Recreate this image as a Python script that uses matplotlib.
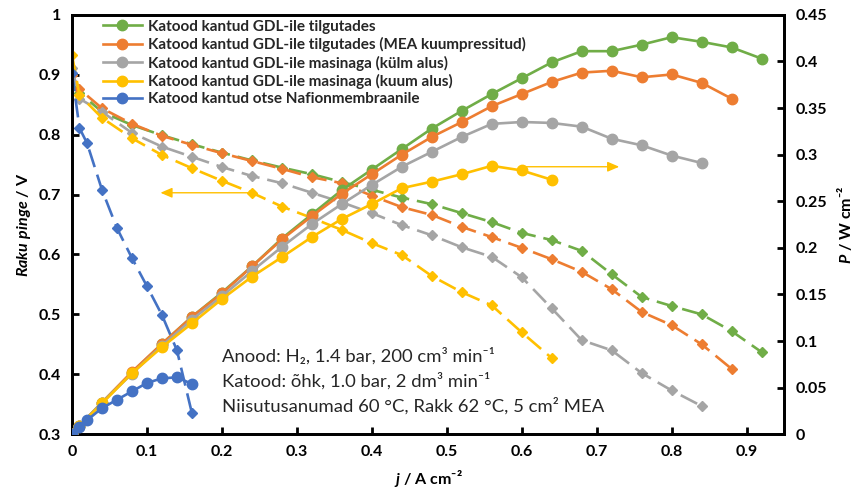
import matplotlib
matplotlib.use("Agg")
import matplotlib.pyplot as plt

FAM = ['Lato', 'DejaVu Sans']
plt.rcParams['font.family'] = FAM
plt.rcParams['mathtext.fontset'] = 'custom'
plt.rcParams['mathtext.it'] = 'Lato:italic:bold'
plt.rcParams['mathtext.rm'] = 'Lato:bold'
plt.rcParams['mathtext.bf'] = 'Lato:bold'

# ---------------- data ----------------
labels = [
    "Katood kantud GDL-ile tilgutades",
    "Katood kantud GDL-ile tilgutades (MEA kuumpressitud)",
    "Katood kantud GDL-ile masinaga (külm alus)",
    "Katood kantud GDL-ile masinaga (kuum alus)",
    "Katood kantud otse Nafionmembraanile",
]
colors = ['#70AD47', '#ED7D31', '#A5A5A5', '#FFC000', '#4472C4']

j_green = [0, 0.01, 0.04, 0.08, 0.12, 0.16, 0.20, 0.24, 0.28, 0.32, 0.36, 0.40, 0.44,
           0.48, 0.52, 0.56, 0.60, 0.64, 0.68, 0.72, 0.76, 0.80, 0.84, 0.88, 0.92]
V_green = [0.886, 0.870, 0.838, 0.816, 0.799, 0.784, 0.770, 0.757, 0.745, 0.734, 0.721,
           0.708, 0.695, 0.684, 0.669, 0.654, 0.636, 0.624, 0.606, 0.567, 0.529, 0.514,
           0.500, 0.472, 0.437]
P_green = [0, 0.009, 0.034, 0.066, 0.097, 0.126, 0.152, 0.180, 0.210, 0.236, 0.262,
           0.284, 0.306, 0.328, 0.347, 0.365, 0.382, 0.399, 0.411, 0.411, 0.418, 0.426,
           0.421, 0.415, 0.403]

j_orange = j_green[:24]
V_orange = [0.900, 0.876, 0.844, 0.818, 0.798, 0.783, 0.769, 0.756, 0.743, 0.729, 0.719,
            0.698, 0.679, 0.666, 0.646, 0.629, 0.611, 0.592, 0.571, 0.542, 0.504, 0.482,
            0.450, 0.409]
P_orange = [0, 0.009, 0.034, 0.067, 0.097, 0.126, 0.151, 0.180, 0.209, 0.234, 0.258,
            0.279, 0.300, 0.319, 0.335, 0.352, 0.365, 0.378, 0.388, 0.390, 0.383, 0.386,
            0.377, 0.360]

j_gray = j_green[:23]
V_gray = [0.911, 0.860, 0.838, 0.803, 0.780, 0.763, 0.746, 0.731, 0.719, 0.703, 0.687,
          0.669, 0.649, 0.632, 0.612, 0.596, 0.562, 0.510, 0.457, 0.440, 0.402, 0.373,
          0.347]
P_gray = [0, 0.009, 0.034, 0.065, 0.095, 0.123, 0.148, 0.175, 0.201, 0.2255, 0.247,
          0.2675, 0.287, 0.303, 0.319, 0.333, 0.335, 0.334, 0.330, 0.317, 0.310, 0.299,
          0.291]

j_yellow = j_green[:18]
V_yellow = [0.933, 0.866, 0.828, 0.794, 0.766, 0.744, 0.723, 0.703, 0.680, 0.661, 0.641,
            0.619, 0.599, 0.564, 0.537, 0.515, 0.470, 0.427]
P_yellow = [0, 0.009, 0.033, 0.0655, 0.0934, 0.119, 0.145, 0.169, 0.190, 0.2116, 0.231,
            0.247, 0.264, 0.271, 0.279, 0.288, 0.283, 0.273]

j_blue = [0, 0.01, 0.02, 0.04, 0.06, 0.08, 0.10, 0.12, 0.14, 0.16]
V_blue = [0.903, 0.811, 0.786, 0.708, 0.644, 0.594, 0.547, 0.499, 0.440, 0.335]
P_blue = [0, 0.0075, 0.015, 0.028, 0.037, 0.046, 0.055, 0.060, 0.061, 0.054]

series = [
    (j_green, V_green, P_green),
    (j_orange, V_orange, P_orange),
    (j_gray, V_gray, P_gray),
    (j_yellow, V_yellow, P_yellow),
    (j_blue, V_blue, P_blue),
]

xticks = [0, 0.1, 0.2, 0.3, 0.4, 0.5, 0.6, 0.7, 0.8, 0.9]
yticks_left = [0.3, 0.4, 0.5, 0.6, 0.7, 0.8, 0.9, 1.0]
yticks_right = [0, 0.05, 0.1, 0.15, 0.2, 0.25, 0.3, 0.35, 0.4, 0.45]

info_lines = [
    "Anood: H\u2082, 1.4 bar, 200 cm\u00b3 min\u207b\u00b9",
    "Katood: õhk, 1.0 bar, 2 dm\u00b3 min\u207b\u00b9",
    "Niisutusanumad 60 °C, Rakk 62 °C, 5 cm\u00b2 MEA",
]

# ---------------- figure ----------------
fig = plt.figure(figsize=(8.57, 4.94), dpi=100)
ax = fig.add_axes([0.084, 0.121, 0.831, 0.849])
ax2 = ax.twinx()

handles = []
for (j, V, P), c, lab in zip(series, colors, labels):
    ax.plot(j, V, color=c, lw=1.9, ls=(0, (7, 3)), marker='D', ms=5.5,
            markeredgecolor=c, markerfacecolor=c, zorder=3)
    h, = ax2.plot(j, P, color=c, lw=1.9, ls='-', marker='o', ms=7.5,
                  markeredgecolor=c, markerfacecolor=c, label=lab, zorder=3)
    handles.append(h)

ax.set_xlim(0, 0.95)
ax.set_ylim(0.3, 1.0)
ax2.set_ylim(0, 0.45)
ax.set_xticks(xticks)
ax.set_xticklabels([f"{t:g}" for t in xticks])
ax.set_yticks(yticks_left)
ax.set_yticklabels([f"{t:g}" for t in yticks_left])
ax2.set_yticks(yticks_right)
ax2.set_yticklabels([f"{t:g}" for t in yticks_right])

for a in (ax, ax2):
    for s in a.spines.values():
        s.set_linewidth(2.0)
        s.set_color('black')
    a.tick_params(direction='in', length=5, width=2, labelsize=11.5, pad=8)
    for lab in a.get_xticklabels() + a.get_yticklabels():
        lab.set_fontweight('bold')

# arrows
ax.annotate('', xy=(0.118, 0.703), xytext=(0.24, 0.703),
            arrowprops=dict(arrowstyle='-|>,head_length=0.7,head_width=0.3',
                            color='#FFC000', lw=1.0, shrinkA=0, shrinkB=0), zorder=2)
ax2.annotate('', xy=(0.73, 0.287), xytext=(0.60, 0.287),
             arrowprops=dict(arrowstyle='-|>,head_length=0.7,head_width=0.3',
                             color='#FFC000', lw=1.0, shrinkA=0, shrinkB=0), zorder=2)

# labels
ax.set_ylabel(r'$\mathit{Raku\ pinge}$ / V', fontsize=11.5, fontweight='bold', labelpad=4)
ax.set_xlabel(r'$\mathit{j}$ / A cm⁻²', fontsize=11.5, fontweight='bold', labelpad=6)
ax2.set_ylabel(r'$\mathit{P}$ / W cm⁻²', fontsize=11.5, fontweight='bold', labelpad=6)

# info text
for i, line in enumerate(info_lines):
    ax.text(0.2, 0.3 + (434 - 356 - 25 * i) / 598.6, line, fontsize=13.3,
            va='center', ha='left', color='#262626', family=FAM)

leg = ax2.legend(handles=handles, loc='upper left', bbox_to_anchor=(0.03, 1.01),
                 frameon=False, fontsize=11, handlelength=2.6, handletextpad=0.4,
                 labelspacing=0.22, borderaxespad=0.2)
for t in leg.get_texts():
    t.set_fontweight('bold')
    t.set_color('#262626')

fig.savefig('out.png', dpi=100)
